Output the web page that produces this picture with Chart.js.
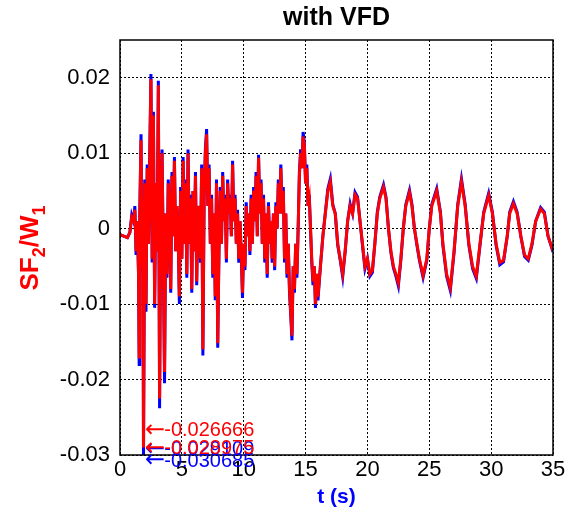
<!DOCTYPE html>
<html lang="en">
<head>
<meta charset="UTF-8">
<title>with VFD</title>
<script src="https://cdn.jsdelivr.net/npm/chart.js"></script>
<style>
  body { margin: 0; background: #fff; }
  #wrap { width: 574px; height: 520px; }
</style>
</head>
<body>
<div id="wrap"><canvas id="sfChart" width="574" height="520"></canvas></div>
<script>
// time (s)
const timeS = [
  0, 0.3, 0.6, 0.8, 0.95, 1.1, 1.2, 1.3, 1.4, 1.5,
  1.55, 1.6, 1.7, 1.78, 1.85, 1.9, 2.0, 2.1, 2.2, 2.3,
  2.4, 2.5, 2.6, 2.7, 2.8, 2.9, 3.0, 3.1, 3.2, 3.3,
  3.4, 3.5, 3.6, 3.7, 3.8, 3.9, 4.0, 4.1, 4.2, 4.3,
  4.4, 4.5, 4.6, 4.7, 4.8, 4.9, 5.0, 5.1, 5.2, 5.3,
  5.4, 5.5, 5.6, 5.7, 5.8, 5.9, 6.0, 6.1, 6.2, 6.3,
  6.4, 6.5, 6.6, 6.7, 6.8, 6.9, 7.0, 7.1, 7.2, 7.3,
  7.4, 7.5, 7.6, 7.7, 7.8, 7.9, 8.0, 8.1, 8.2, 8.3,
  8.4, 8.5, 8.6, 8.7, 8.8, 8.9, 9.0, 9.1, 9.2, 9.3,
  9.4, 9.5, 9.6, 9.7, 9.8, 9.9, 10.0, 10.1, 10.2, 10.3,
  10.4, 10.5, 10.6, 10.7, 10.8, 10.9, 11.0, 11.1, 11.2, 11.3,
  11.4, 11.5, 11.6, 11.7, 11.8, 11.9, 12.0, 12.1, 12.2, 12.3,
  12.4, 12.5, 12.6, 12.7, 12.8, 12.9, 13.0, 13.1, 13.2, 13.3,
  13.4, 13.5, 13.6, 13.7, 13.8, 13.9, 14.0, 14.1, 14.2, 14.3,
  14.4, 14.5, 14.6, 14.7, 14.8, 14.9, 15.0, 15.1, 15.2, 15.3,
  15.4, 15.5, 15.6, 15.7, 15.8, 15.9, 16.0, 16.2, 16.4, 16.6,
  16.8, 17.0, 17.2, 17.4, 17.6, 17.8, 18.0, 18.2, 18.4, 18.6,
  18.8, 19.0, 19.2, 19.4, 19.6, 19.8, 20.0, 20.2, 20.4, 20.6,
  20.8, 21.0, 21.3, 21.5, 21.7, 21.9, 22.1, 22.3, 22.5, 22.7,
  22.9, 23.1, 23.4, 23.6, 23.8, 24.0, 24.2, 24.5, 24.8, 25.0,
  25.2, 25.6, 25.9, 26.1, 26.4, 26.7, 27.0, 27.3, 27.6, 27.9,
  28.2, 28.5, 28.8, 29.1, 29.4, 29.8, 30.1, 30.4, 30.7, 31.0,
  31.3, 31.5, 31.8, 32.1, 32.4, 32.7, 33.0, 33.3, 33.6, 34.0,
  34.3, 34.6, 35.0
];

// SF2/W1, red trace
const sfRed = [
  -0.0008, -0.0010, -0.0012, -0.0005, 0.0015, 0.0010, 0.0025, -0.0030, 0.0010, -0.0060,
  -0.0170, 0.0020, 0.0117, -0.0050, 0.0040, -0.0290, 0.0060, -0.0100, 0.0080, -0.0020,
  0.0090, 0.0198, -0.0040, 0.0150, -0.0100, 0.0060, -0.0030, 0.0190, -0.0225, 0.0030,
  0.0100, -0.0040, -0.0190, 0.0020, -0.0060, 0.0060, 0.0020, -0.0080, 0.0070, -0.0010,
  0.0090, -0.0030, 0.0030, -0.0010, -0.0090, 0.0050, -0.0040, 0.0090, -0.0020, 0.0060,
  -0.0060, 0.0100, -0.0020, 0.0040, -0.0080, 0.0050, -0.0030, 0.0070, -0.0070, 0.0030,
  0.0020, -0.0040, 0.0080, -0.0160, 0.0040, 0.0100, 0.0125, 0.0030, 0.0080, -0.0020,
  0.0040, -0.0060, 0.0020, -0.0090, 0.0060, -0.0152, -0.0030, 0.0050, -0.0020, 0.0070,
  0.0010, 0.0040, -0.0040, 0.0060, 0.0020, 0.0040, -0.0010, 0.0085, 0.0010, 0.0040,
  -0.0020, 0.0020, -0.0040, 0.0010, -0.0030, -0.0085, -0.0020, -0.0050, 0.0030, -0.0010,
  0.0020, -0.0030, 0.0040, -0.0020, 0.0050, 0.0010, 0.0070, -0.0010, 0.0094, 0.0020,
  0.0060, -0.0020, 0.0040, -0.0040, 0.0020, -0.0060, 0.0030, -0.0020, 0.0010, -0.0040,
  0.0020, -0.0050, 0.0030, 0.0000, 0.0060, 0.0020, 0.0080, 0.0020, 0.0050, -0.0040,
  0.0020, -0.0060, -0.0020, -0.0080, -0.0110, -0.0142, -0.0050, -0.0080, -0.0020, -0.0060,
  0.0000, 0.0070, 0.0100, 0.0080, 0.0122, 0.0110, 0.0060, 0.0080, 0.0030, 0.0040,
  0.0000, -0.0040, -0.0070, -0.0050, -0.0100, -0.0060, -0.0090, -0.0050, -0.0010, 0.0020,
  0.0050, 0.0062, 0.0030, 0.0020, -0.0020, -0.0040, -0.0060, -0.0030, 0.0010, 0.0030,
  0.0020, 0.0045, 0.0040, 0.0010, -0.0020, -0.0050, -0.0040, -0.0060, -0.0055, -0.0020,
  0.0020, 0.0040, 0.0055, 0.0040, 0.0000, -0.0030, -0.0050, -0.0060, -0.0072, -0.0040,
  0.0000, 0.0030, 0.0048, 0.0030, 0.0000, -0.0020, -0.0040, -0.0062, -0.0040, 0.0000,
  0.0030, 0.0050, 0.0020, -0.0020, -0.0060, -0.0078, -0.0030, 0.0030, 0.0062, 0.0030,
  -0.0020, -0.0050, -0.0063, -0.0020, 0.0020, 0.0044, 0.0020, -0.0020, -0.0045, -0.0042,
  -0.0010, 0.0020, 0.0033, 0.0020, -0.0010, -0.0035, -0.0040, -0.0020, 0.0010, 0.0026,
  0.0020, -0.0010, -0.0029
];

// SF2/W1, blue trace
const sfBlue = [
  -0.0008, -0.0010, -0.0012, -0.0005, 0.0018, 0.0010, 0.0030, -0.0035, 0.0010, -0.0065,
  -0.0180, 0.0020, 0.0125, -0.0055, 0.0040, -0.0307, 0.0065, -0.0110, 0.0085, -0.0020,
  0.0095, 0.0205, -0.0045, 0.0155, -0.0105, 0.0060, -0.0030, 0.0196, -0.0238, 0.0030,
  0.0105, -0.0040, -0.0205, 0.0020, -0.0065, 0.0065, 0.0020, -0.0085, 0.0075, -0.0010,
  0.0095, -0.0030, 0.0030, -0.0010, -0.0100, 0.0055, -0.0040, 0.0095, -0.0020, 0.0065,
  -0.0065, 0.0105, -0.0020, 0.0045, -0.0085, 0.0050, -0.0030, 0.0075, -0.0075, 0.0030,
  0.0020, -0.0045, 0.0085, -0.0168, 0.0040, 0.0105, 0.0132, 0.0030, 0.0085, -0.0020,
  0.0045, -0.0065, 0.0020, -0.0095, 0.0065, -0.0158, -0.0030, 0.0055, -0.0020, 0.0075,
  0.0010, 0.0045, -0.0045, 0.0065, 0.0020, 0.0045, -0.0010, 0.0090, 0.0010, 0.0045,
  -0.0020, 0.0025, -0.0045, 0.0010, -0.0035, -0.0092, -0.0020, -0.0055, 0.0035, -0.0010,
  0.0020, -0.0035, 0.0045, -0.0020, 0.0055, 0.0010, 0.0075, -0.0010, 0.0098, 0.0020,
  0.0065, -0.0020, 0.0045, -0.0045, 0.0020, -0.0065, 0.0035, -0.0020, 0.0010, -0.0045,
  0.0020, -0.0055, 0.0035, 0.0000, 0.0065, 0.0020, 0.0085, 0.0020, 0.0055, -0.0045,
  0.0020, -0.0065, -0.0020, -0.0085, -0.0115, -0.0148, -0.0050, -0.0085, -0.0020, -0.0065,
  0.0000, 0.0075, 0.0105, 0.0080, 0.0128, 0.0115, 0.0060, 0.0085, 0.0030, 0.0045,
  0.0000, -0.0045, -0.0075, -0.0050, -0.0105, -0.0060, -0.0095, -0.0050, -0.0010, 0.0022,
  0.0053, 0.0066, 0.0032, 0.0020, -0.0022, -0.0042, -0.0064, -0.0030, 0.0010, 0.0033,
  0.0020, 0.0048, 0.0042, 0.0010, -0.0022, -0.0053, -0.0040, -0.0063, -0.0058, -0.0020,
  0.0022, 0.0042, 0.0058, 0.0042, 0.0000, -0.0032, -0.0052, -0.0063, -0.0076, -0.0042,
  0.0000, 0.0032, 0.0051, 0.0032, 0.0000, -0.0022, -0.0042, -0.0065, -0.0042, 0.0000,
  0.0032, 0.0053, 0.0022, -0.0022, -0.0063, -0.0082, -0.0032, 0.0032, 0.0066, 0.0032,
  -0.0022, -0.0053, -0.0066, -0.0022, 0.0022, 0.0047, 0.0022, -0.0022, -0.0048, -0.0044,
  -0.0010, 0.0022, 0.0036, 0.0022, -0.0010, -0.0037, -0.0042, -0.0022, 0.0010, 0.0028,
  0.0022, -0.0010, -0.0031
];

const xTicks = [0, 5, 10, 15, 20, 25, 30, 35];
const yTicks = [0.02, 0.01, 0, -0.01, -0.02, -0.03];
const yTickLabels = ['0.02', '0.01', '0', '-0.01', '-0.02', '-0.03'];

// data tips near t = 1.9 s
const tipTime = 1.95;
const tipValues = [-0.030685, -0.029109, -0.026666, -0.028975];
const tipTexts = ['-0.030685', '-0.029109', '-0.026666', '-0.028975'];
const tipIsBlue = [true, true, false, false];

const FONT = 'Arial, "Liberation Sans", sans-serif';
const RED = '#ff0000';
const BLUE = '#0000ff';

const extrasPlugin = {
    id: 'extras',
    afterDatasetsDraw(chart) {
        const ctx = chart.ctx;
        const a = chart.chartArea;
        const xs = chart.scales.x;
        const ys = chart.scales.y;

        // axes box
        ctx.save();
        ctx.strokeStyle = '#000';
        ctx.lineWidth = 1.5;
        ctx.strokeRect(a.left, a.top, a.right - a.left, a.bottom - a.top);
        ctx.restore();

        // data tips
        ctx.save();
        ctx.textBaseline = 'middle';
        ctx.textAlign = 'left';
        tipValues.forEach((v, i) => {
            const x0 = xs.getPixelForValue(tipTime) + 1;
            const y0 = ys.getPixelForValue(v);
            ctx.fillStyle = tipIsBlue[i] ? BLUE : RED;
            ctx.font = '24px "DejaVu Sans", sans-serif';
            ctx.fillText('\u2190', x0, y0 + 1);
            const w = ctx.measureText('\u2190').width;
            ctx.font = '20px ' + FONT;
            ctx.fillText(tipTexts[i], x0 + w - 1, y0 + 1);
        });
        ctx.restore();
    },
    afterDraw(chart) {
        const ctx = chart.ctx;
        const a = chart.chartArea;
        const cx = (a.left + a.right) / 2;

        ctx.save();
        ctx.textBaseline = 'middle';
        ctx.textAlign = 'center';

        // title
        ctx.fillStyle = '#000';
        ctx.font = 'bold 25px ' + FONT;
        ctx.fillText('with VFD', cx, 18);

        // x label
        ctx.fillStyle = BLUE;
        ctx.font = 'bold 21px ' + FONT;
        ctx.fillText('t (s)', cx, 497);

        // y label with subscripts
        ctx.translate(38, 248);
        ctx.rotate(-Math.PI / 2);
        ctx.fillStyle = RED;
        ctx.textAlign = 'left';
        ctx.textBaseline = 'alphabetic';
        const parts = [['SF', 26, 0], ['2', 18, 7], ['/W', 26, 0], ['1', 18, 7]];
        let total = 0;
        parts.forEach(p => { ctx.font = 'bold ' + p[1] + 'px ' + FONT; total += ctx.measureText(p[0]).width; });
        let px = -total / 2;
        parts.forEach(p => {
            ctx.font = 'bold ' + p[1] + 'px ' + FONT;
            ctx.fillText(p[0], px, p[2]);
            px += ctx.measureText(p[0]).width;
        });
        ctx.restore();
    }
};

const ctx = document.getElementById('sfChart').getContext('2d');

new Chart(ctx, {
    type: 'line',
    data: {
        datasets: [
            {
                label: 'blue',
                data: timeS.map((t, i) => ({ x: t, y: sfBlue[i] })),
                borderColor: BLUE,
                borderWidth: 3,
                pointRadius: 0,
                tension: 0,
                fill: false,
                order: 2
            },
            {
                label: 'red',
                data: timeS.map((t, i) => ({ x: t, y: sfRed[i] })),
                borderColor: RED,
                borderWidth: 3,
                pointRadius: 0,
                tension: 0,
                fill: false,
                order: 1
            }
        ]
    },
    options: {
        responsive: false,
        animation: false,
        layout: { padding: { top: 40, right: 21, left: 0, bottom: 0 } },
        plugins: {
            legend: { display: false },
            tooltip: { enabled: false },
            title: { display: false }
        },
        scales: {
            x: {
                type: 'linear',
                min: 0,
                max: 35,
                afterFit(scale) { scale.height = 65; },
                afterBuildTicks(scale) { scale.ticks = xTicks.map(v => ({ value: v })); },
                ticks: {
                    color: '#000',
                    font: { family: FONT, size: 22 },
                    padding: 2,
                    maxRotation: 0,
                    callback: v => String(v)
                },
                grid: { color: '#000', lineWidth: 1, drawTicks: false },
                border: { display: false, dash: [2, 2] }
            },
            y: {
                type: 'linear',
                min: -0.03,
                max: 0.025,
                afterFit(scale) { scale.width = 120; },
                afterBuildTicks(scale) { scale.ticks = yTicks.map(v => ({ value: v })); },
                ticks: {
                    color: '#000',
                    font: { family: FONT, size: 22 },
                    padding: 10,
                    callback: v => {
                        const i = yTicks.findIndex(t => Math.abs(t - v) < 1e-9);
                        return i >= 0 ? yTickLabels[i] : '';
                    }
                },
                grid: { color: '#000', lineWidth: 1, drawTicks: false },
                border: { display: false, dash: [2, 2] }
            }
        }
    },
    plugins: [extrasPlugin]
});
</script>
</body>
</html>
